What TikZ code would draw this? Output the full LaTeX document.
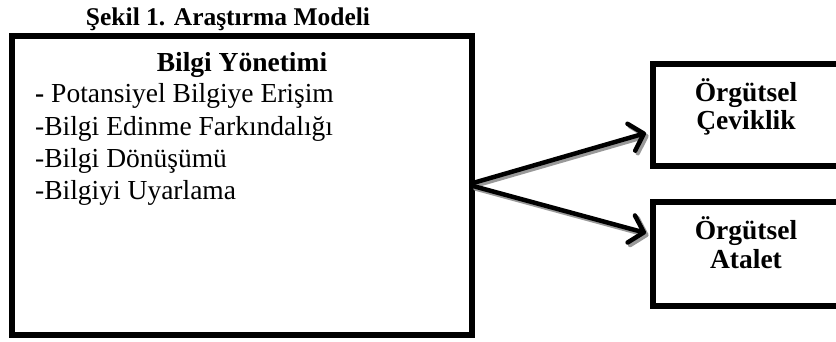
\documentclass[tikz,border=0pt]{standalone}
\usepackage{fontspec}
\setmainfont{Liberation Serif}
\usetikzlibrary{arrows.meta}
\begin{document}
\begin{tikzpicture}[x=1pt,y=-1pt,
  box/.style={draw=black,line width=5.5pt},
  txt/.style={inner sep=0pt,anchor=base,font=\fontsize{27.5}{32}\selectfont},
  btxt/.style={txt,font=\fontsize{27.5}{32}\selectfont\bfseries},
  conn/.style={line width=4.5pt,line cap=round,-{Straight Barb[length=13pt,width=28pt,line cap=round,round]}},
  shadow/.style={conn,draw=black!40}]
\useasboundingbox (0,0) rectangle (836,342);
\clip (0,0) rectangle (836,342);
\fill[white] (0,0) rectangle (836,342);
\node[btxt,font=\fontsize{25.5}{30}\selectfont\bfseries] (title) at (228,26) {Şekil 1. Araştırma Modeli};
\draw[box] (12,36) rectangle (472,335);
\node[btxt] (bt) at (242,72) {Bilgi Yönetimi};
\node[txt,anchor=base west] (l1) at (35,103) {\textbf{-} Potansiyel Bilgiye Erişim};
\node[txt,anchor=base west] (l2) at (35,136) {-Bilgi Edinme Farkındalığı};
\node[txt,anchor=base west] (l3) at (35,168) {-Bilgi Dönüşümü};
\node[txt,anchor=base west] (l4) at (35,200) {-Bilgiyi Uyarlama};
\draw[box] (653,64) rectangle (846,166);
\node[btxt] (a1) at (746,102) {Örgütsel};
\node[btxt] (a2) at (746,130) {Çeviklik};
\draw[box] (653,202) rectangle (846,306);
\node[btxt] (b1) at (746,240) {Örgütsel};
\node[btxt] (b2) at (746,268) {Atalet};
\coordinate (s1) at (473,183);
\coordinate (s2) at (473,186);
\coordinate (e1) at (646,133);
\coordinate (e2) at (646,233);
\draw[shadow] ([shift={(2.5,2.5)}]s1) -- ([shift={(2.5,2.5)}]e1);
\draw[shadow] ([shift={(2.5,2.5)}]s2) -- ([shift={(2.5,2.5)}]e2);
\draw[conn] (s1) -- (e1);
\draw[conn] (s2) -- (e2);
\end{tikzpicture}
\end{document}
